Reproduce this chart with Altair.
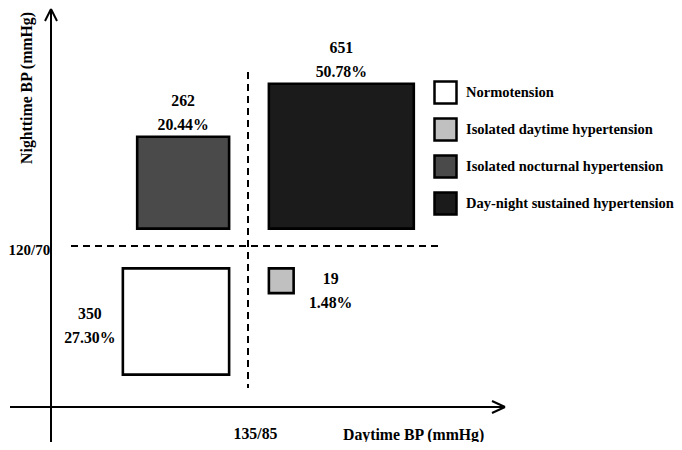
import altair as alt
import numpy as np
import pandas as pd

# ---- data ----
groups = ["Normotension", "Isolated daytime hypertension",
          "Isolated nocturnal hypertension", "Day-night sustained hypertension"]
counts = [350, 19, 262, 651]
percents = ["27.30%", "1.48%", "20.44%", "50.78%"]
day_side = [-1, 1, -1, 1]      # below / above daytime threshold
night_side = [-1, -1, 1, 1]    # below / above nighttime threshold
x_threshold_label = "135/85"
y_threshold_label = "120/70"
x_title = "Daytime BP (mmHg)"
y_title = "Nighttime BP (mmHg)"

# ---- styles / layout ----
fills = ["#ffffff", "#c0c0c0", "#4a4a4a", "#1b1b1b"]
FONT = "Liberation Serif"
W, H = 666, 434
U = 5.68             # pixels per sqrt(count) unit
CX, CY = 241, 240.5  # centre of the quadrants within the chart (px)
GAP = 3.5            # gap between squares and the thresholds (units)


def ux(px):  # page px -> data units
    return (px - 8 - CX) / U


def uy(py):
    return (CY - (py - 8)) / U


xs = alt.Scale(domain=[-CX / U, (W - CX) / U], nice=False, zero=False)
ys = alt.Scale(domain=[(CY - H) / U, CY / U], nice=False, zero=False)

# squares: side proportional to sqrt(count)
rows = []
for g, n, p, ds, ns in zip(groups, counts, percents, day_side, night_side):
    s = np.sqrt(n)
    x0 = GAP if ds > 0 else -GAP - s
    y0 = GAP if ns > 0 else -GAP - s
    rows.append(dict(group=g, n=n, pct=p, x0=x0, x1=x0 + s, y0=y0, y1=y0 + s, ds=ds, ns=ns))
sq = pd.DataFrame(rows)

# value labels derived from square geometry
lab = []
for r in rows:
    xm = (r["x0"] + r["x1"]) / 2
    if r["ns"] > 0:   # labels above the square
        lab.append(dict(x=xm, y=r["y1"] + 36 / U, t=str(r["n"])))
        lab.append(dict(x=xm, y=r["y1"] + 12 / U, t=r["pct"]))
    elif r["ds"] < 0:  # left of square
        lab.append(dict(x=r["x0"] - 33 / U, y=r["y1"] - 46 / U, t=str(r["n"])))
        lab.append(dict(x=r["x0"] - 33 / U, y=r["y1"] - 70 / U, t=r["pct"]))
    else:              # right of square
        lab.append(dict(x=r["x1"] + 37 / U, y=r["y1"] - 11 / U, t=str(r["n"])))
        lab.append(dict(x=r["x1"] + 37 / U, y=r["y1"] - 35 / U, t=r["pct"]))
labels = pd.DataFrame(lab)

legend = alt.Legend(
    orient="none", legendX=425, legendY=80 - 8, title=None,
    symbolType="square", symbolSize=484, symbolStrokeColor="black",
    symbolStrokeWidth=2.5, symbolOpacity=1,
    labelFont=FONT, labelFontWeight="bold", labelFontSize=14.5, labelColor="black",
    labelOffset=8, labelLimit=320, rowPadding=4, padding=0,
)

rects = alt.Chart(sq).mark_rect(stroke="black", strokeWidth=2.6).encode(
    x=alt.X("x0:Q", scale=xs, axis=None), x2="x1",
    y=alt.Y("y0:Q", scale=ys, axis=None), y2="y1",
    fill=alt.Fill("group:N", scale=alt.Scale(domain=groups, range=fills), legend=legend),
)

dashed = pd.DataFrame([
    dict(x=ux(248), x2=ux(248), y=uy(72), y2=uy(388)),
    dict(x=ux(71), x2=ux(442), y=uy(246), y2=uy(246)),
])
dash_layer = alt.Chart(dashed).mark_rule(strokeDash=[7, 5], strokeWidth=2, color="black").encode(
    x=alt.X("x:Q", scale=xs, axis=None), x2="x2",
    y=alt.Y("y:Q", scale=ys, axis=None), y2="y2",
)

axes = pd.DataFrame([
    dict(x=ux(51), x2=ux(51), y=uy(452), y2=uy(9)),
    dict(x=ux(51), x2=ux(45), y=uy(9), y2=uy(21)),
    dict(x=ux(51), x2=ux(57), y=uy(9), y2=uy(21)),
    dict(x=ux(10), x2=ux(505), y=uy(407), y2=uy(407)),
    dict(x=ux(505), x2=ux(492), y=uy(407), y2=uy(401)),
    dict(x=ux(505), x2=ux(492), y=uy(407), y2=uy(413)),
])
axis_layer = alt.Chart(axes).mark_rule(strokeWidth=2, color="black").encode(
    x=alt.X("x:Q", scale=xs, axis=None), x2="x2",
    y=alt.Y("y:Q", scale=ys, axis=None), y2="y2",
)

val_text = alt.Chart(labels).mark_text(
    font=FONT, fontWeight="bold", fontSize=15.8, color="black", align="center", baseline="middle"
).encode(x=alt.X("x:Q", scale=xs, axis=None), y=alt.Y("y:Q", scale=ys, axis=None), text="t:N")

thr_y = pd.DataFrame([dict(x=ux(8.5), y=uy(250), t=y_threshold_label)])
thr_y_text = alt.Chart(thr_y).mark_text(
    font=FONT, fontWeight="bold", fontSize=15, color="black", align="left", baseline="middle"
).encode(x=alt.X("x:Q", scale=xs, axis=None), y=alt.Y("y:Q", scale=ys, axis=None), text="t:N")

thr_x = pd.DataFrame([dict(x=ux(255.5), y=uy(434), t=x_threshold_label)])
thr_x_text = alt.Chart(thr_x).mark_text(
    font=FONT, fontWeight="bold", fontSize=15.8, color="black", align="center", baseline="middle"
).encode(x=alt.X("x:Q", scale=xs, axis=None), y=alt.Y("y:Q", scale=ys, axis=None), text="t:N")

xt = pd.DataFrame([dict(x=ux(343), y=uy(435), t=x_title)])
xt_text = alt.Chart(xt).mark_text(
    font=FONT, fontWeight="bold", fontSize=15.8, color="black", align="left", baseline="middle"
).encode(x=alt.X("x:Q", scale=xs, axis=None), y=alt.Y("y:Q", scale=ys, axis=None), text="t:N")

yt = pd.DataFrame([dict(x=ux(27), y=uy(88), t=y_title)])
yt_text = alt.Chart(yt).mark_text(
    font=FONT, fontWeight="bold", fontSize=15.8, color="black", align="center", baseline="middle", angle=270
).encode(x=alt.X("x:Q", scale=xs, axis=None), y=alt.Y("y:Q", scale=ys, axis=None), text="t:N")

chart = alt.layer(
    rects, dash_layer, axis_layer, val_text, thr_y_text, thr_x_text, xt_text, yt_text
).properties(
    width=W, height=H, padding=0, autosize=alt.AutoSizeParams(type="none"), background="white"
).configure_view(stroke=None)

chart.save("out.html", embed_options={"renderer": "svg", "actions": False})
